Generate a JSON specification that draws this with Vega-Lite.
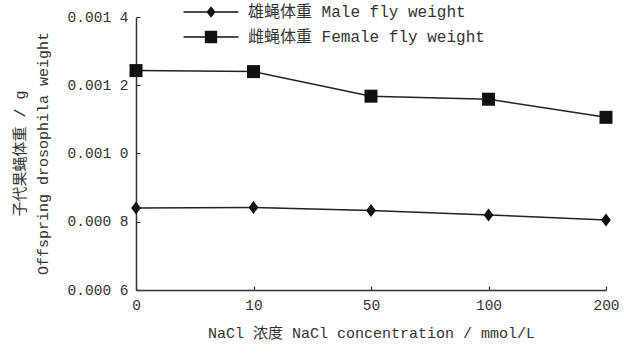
{
  "$schema": "https://vega.github.io/schema/vega-lite/v6.json",
  "width": 470,
  "height": 273,
  "autosize": {"type": "none"},
  "padding": {"left": 136, "top": 17, "right": 18, "bottom": 63},
  "background": "white",
  "config": {
    "view": {"stroke": null},
    "font": "Liberation Mono, Noto Sans CJK SC",
    "axis": {
      "grid": false,
      "domainColor": "#333",
      "domainWidth": 1.5,
      "tickColor": "#333",
      "tickSize": -4,
      "tickWidth": 1.2,
      "labelFont": "Liberation Mono, Noto Sans CJK SC",
      "labelFontSize": 14.5,
      "labelColor": "#333",
      "titleFont": "Liberation Mono, Noto Sans CJK SC",
      "titleFontSize": 15,
      "titleFontWeight": "normal",
      "titleColor": "#333"
    }
  },
  "data": {
    "values": [
      {"conc": "0", "weight": 0.00084, "series": "雄蝇体重 Male fly weight"},
      {"conc": "10", "weight": 0.000842, "series": "雄蝇体重 Male fly weight"},
      {"conc": "50", "weight": 0.000833, "series": "雄蝇体重 Male fly weight"},
      {"conc": "100", "weight": 0.00082, "series": "雄蝇体重 Male fly weight"},
      {"conc": "200", "weight": 0.000805, "series": "雄蝇体重 Male fly weight"},
      {"conc": "0", "weight": 0.001243, "series": "雌蝇体重 Female fly weight"},
      {"conc": "10", "weight": 0.00124, "series": "雌蝇体重 Female fly weight"},
      {"conc": "50", "weight": 0.001168, "series": "雌蝇体重 Female fly weight"},
      {"conc": "100", "weight": 0.001159, "series": "雌蝇体重 Female fly weight"},
      {"conc": "200", "weight": 0.001106, "series": "雌蝇体重 Female fly weight"}
    ]
  },
  "encoding": {
    "x": {
      "field": "conc",
      "type": "ordinal",
      "sort": ["0", "10", "50", "100", "200"],
      "scale": {"type": "point", "padding": 0},
      "axis": {
        "title": "NaCl 浓度 NaCl concentration / mmol/L",
        "labelAngle": 0,
        "labelPadding": 12,
        "titlePadding": 14
      }
    },
    "y": {
      "field": "weight",
      "type": "quantitative",
      "scale": {"domain": [0.0006, 0.0014], "zero": false, "nice": false},
      "axis": {
        "values": [0.0006, 0.0008, 0.001, 0.0012, 0.0014],
        "labelExpr": "slice(format(datum.value,'.4f'),0,5) + ' ' + slice(format(datum.value,'.4f'),5)",
        "labelPadding": 12,
        "title": ["子代果蝇体重 / g", "Offspring drosophila weight"],
        "titleAngle": -90,
        "titleAlign": "center",
        "titleBaseline": "middle",
        "titleLineHeight": 23,
        "titleX": -117,
        "titleY": 136
      }
    }
  },
  "layer": [
    {
      "mark": {"type": "line", "color": "#222", "strokeWidth": 1.5},
      "encoding": {"detail": {"field": "series"}}
    },
    {
      "mark": {"type": "point", "filled": true, "color": "#111", "size": 169, "opacity": 1},
      "encoding": {
        "shape": {
          "field": "series",
          "scale": {
            "domain": ["雄蝇体重 Male fly weight", "雌蝇体重 Female fly weight"],
            "range": ["M-0.75,0L0,-1L0.75,0L0,1Z", "square"]
          },
          "legend": null
        }
      }
    },
    {
      "mark": {"type": "point", "filled": true, "color": "#111", "size": 169, "opacity": 0},
      "encoding": {
        "shape": {
          "field": "series",
          "scale": {
            "domain": ["雄蝇体重 Male fly weight", "雌蝇体重 Female fly weight"],
            "range": [
              "M-4.23,-0.12H4.23V0.12H-4.23ZM-0.7,0L0,-0.9L0.7,0L0,0.9Z",
              "M-4.23,-0.12H4.23V0.12H-4.23ZM-0.95,-0.95H0.95V0.95H-0.95Z"
            ]
          },
          "legend": {
            "title": null,
            "orient": "none",
            "legendX": 67,
            "legendY": -13,
            "padding": 0,
            "labelFont": "Liberation Mono, Noto Sans CJK SC",
            "labelFontSize": 16,
            "labelColor": "#333",
            "labelOffset": 29,
            "rowPadding": 9,
            "symbolSize": 169,
            "symbolStrokeWidth": 0,
            "symbolFillColor": "#111",
            "symbolOpacity": 1,
            "labelLimit": 400,
            "encode": {
              "symbols": {
                "update": {
                  "opacity": {"value": 1},
                  "fillOpacity": {"value": 1},
                  "fill": {"value": "#111"}
                }
              }
            }
          }
        }
      }
    }
  ],
  "resolve": {"scale": {"shape": "independent"}}
}
